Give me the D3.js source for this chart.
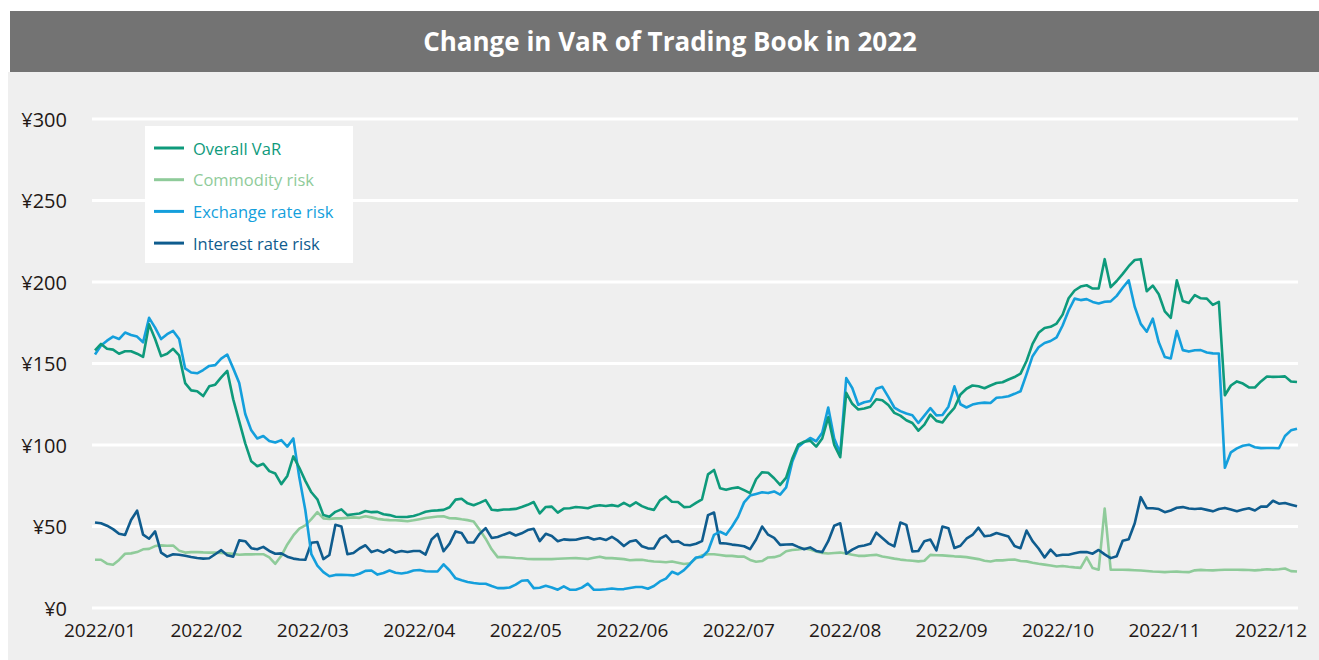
<!DOCTYPE html>
<html>
<head>
<meta charset="utf-8">
<script src="https://cdn.jsdelivr.net/npm/d3@7"></script>
<style>
  body { margin: 0; background: #fff; }
  svg { display: block; font-family: "Open Sans", "Noto Sans", sans-serif; }
</style>
</head>
<body>
<div id="chart"></div>
<script>
const overallVaR = [
  158,162,159,158.5,156,157.5,157.5,156,154,174,165,154.5,156,159,155,138,133.5,133,130,136,
  137,141.5,145.5,128,114.5,101,90,87,88.5,84,82.5,76,81,93,86,78,71,66.7,57,56,
  59,60.5,57,57.5,58,59.5,58.8,59,57.5,57,56,
  55.8,55.9,56.4,57.6,59,59.7,59.9,60.2,61.8,66.5,67,64.2,63,64.5,66.2,60.3,59.9,60.4,60.5,60.8,
  62,63.3,65,58,62,62.2,58.5,61,61.2,62,61.7,61.2,62.5,63,62.6,63.1,62.4,64.5,62.5,64.8,
  62.5,61,60.2,66,68.5,65.2,65,61.9,62.1,64.5,
  66.7,82,84.7,73.5,72.5,73.5,74,72.3,70.5,79,83.3,83,79.6,75.5,80,91.5,100.2,102,102.7,99,
  104,117,100,92.5,132,125.3,121.8,122.4,123.5,128.1,127.5,124.5,119.7,118,115.2,113.5,108.8,112.5,118.7,114.8,
  113.8,118.7,122.8,131,134.5,136.5,136,134.8,136.5,138,
  138.5,140.2,141.7,143.8,151.5,162,168.8,171.8,172.5,174.5,180,190,194.8,197.2,198,196,196,214,196.8,200.6,
  205,209.7,213.5,214,194.3,197.8,192.5,182,178,201,188.3,187.1,192,190,189.8,186,187.8,130.5,136.5,139,
  137.7,135.3,135.3,139,142,141.8,141.9,142.1,139,138.6
];
const commodityRisk = [
  29.6,29.6,27.2,26.5,29.5,33.3,33.5,34.3,36,36.3,38,38.4,38.2,38.3,35.2,34,34.3,34.3,34.1,34,
  34,33.8,33.5,33.2,32.7,32.9,32.9,33,33,31,27.1,32,39,44.5,48.7,50.7,54.5,58.8,55,54.7,
  55,55,55.3,55.6,55.3,56.3,55.6,54.7,54.2,53.9,53.8,
  53.6,53.2,53.8,54.5,55.2,55.7,56.1,56.3,55.1,55,54.4,53.9,53.1,48,42.5,36,31.2,31.2,31,30.7,
  30.5,30.1,30,30,30,30,30.2,30.4,30.5,30.6,30.4,30.1,30.8,31.5,30.6,30.6,30.3,30,29.3,29.5,
  29.6,29,28.5,28.4,28.1,28.5,27.8,27,27.5,30.5,
  32.3,33,33,32.5,32,32,31.5,31.5,29.5,28.4,28.8,31,31.2,32.2,34.8,35.6,35.9,36.5,35.9,34.7,
  33.8,33.4,33.7,34,33.4,32.7,32,32,32.4,32.6,31.6,31,30.3,29.7,29.3,29,28.6,29,32.6,32.4,
  32.3,32,31.7,31.5,31.2,30.6,30,29,28.5,29.3,
  29.2,29.6,29.8,28.8,28.6,27.8,27.1,26.6,26.1,25.5,25.8,25.3,24.9,24.6,31,24.5,23.5,61,23.5,23.5,
  23.5,23.4,23.2,23,22.7,22.4,22.2,22,22.2,22.3,22.1,22,23.1,23.4,23.2,23.1,23.3,23.5,23.5,23.5,
  23.4,23.3,23.1,23.4,23.8,23.5,23.8,24.2,22.6,22.4
];
const exchangeRateRisk = [
  155.5,161,164,166.5,165,169,167.5,166.5,163,178,172,165,168,170,165,147,144.5,144,146,148.5,
  149,153,155.5,147,138,119,109,104,105.5,102.5,101.5,103,99,104,80,60,33,26,22,19.5,
  20.3,20.3,20.2,20,21,22.8,23,20.5,21.5,23,21.6,
  21.2,21.8,23,23.3,22.5,22.4,22.4,26.8,23,18.2,17,16,15.3,14.9,14.9,13.5,12.2,12.2,12.6,14.3,
  16.7,17,12.2,12.4,13.6,12.6,11.2,13.3,11.2,11.2,12.5,15,11.2,11.2,11.5,12,11.5,11.6,12.3,12.9,
  12.9,11.8,13.5,16.3,18,22.2,20.7,23.2,27,31,
  31.3,35,44.9,46.8,45,50,56,64.8,69,70,71,70.5,71.5,69.6,74,89.5,98.8,101.8,104.3,102.3,
  107.5,123,104,95,141,135,124.7,126.2,127,134.5,135.7,129.5,123,120.8,119.3,118.3,113.5,118,122.6,118.2,
  118.4,123.5,136,125,123,124.8,125.6,126,125.8,129,
  129.3,129.9,131.4,133,143.5,154.5,160,162.6,163.8,166,173.3,182.5,189.8,188.9,189.5,187.8,186.8,187.9,188.1,191.5,
  196.5,201,184.8,174.3,169.5,177.5,163,154,153.1,170,158.2,157.3,158.1,158.2,156.8,156.2,156.1,86,95.5,97.9,
  99.5,100.2,98.6,98.1,98.2,98.2,98,105.5,109,110
];
const interestRateRisk = [
  52.5,52,50.5,48.4,45.5,44.8,54,59.7,45,42.5,47,34,31.5,33,32.7,32,31.3,30.7,30.3,30.5,
  33,35.5,32.3,31.5,41.5,41,36.7,36,37.5,35,33.3,33.5,31.5,30.3,29.8,29.6,40,40.5,30,32.5,
  51,50,33,33.7,36.5,38.5,34.3,35.5,34,36,34,
  35,34.4,35,35,32.8,42,45.5,34.8,39.5,47,46,40.2,40.2,45.5,49,43,43.6,45,46.3,44.5,
  45.8,47.8,48.6,41,45.5,44.2,41,42.1,41.8,41.9,42.8,43.4,42,42.8,41.7,43.7,41.3,38,40.8,41.6,
  37.9,36.6,36.5,42.5,44.6,40.5,41,38.8,38.5,39.4,
  41,57,58.6,39.8,39.6,38.9,38.5,37.9,36.1,42,50,45,43,38.7,39,39.1,37.5,36,37.2,35,
  34.3,41,50.5,52,33.3,35.8,37.7,38.4,39.4,46.2,43,39.7,37.8,52.4,51,34.7,35,41,42,35.3,
  50,49,36.8,38.2,42.5,44.8,49.3,44,44.5,46,
  45,43.8,38,36.7,47.5,41,36.5,31,35.8,32,32.7,32.7,33.6,34.3,34.3,33.3,35.6,32.9,30.6,31.8,
  41.3,42.2,52,68,61.2,61.2,60.7,58.8,59.8,61.5,61.9,61,60.7,61,60.2,59.3,60.7,61.4,60.4,59.4,
  60.4,61.2,59.8,62.2,62.2,65.8,64,64.4,63.4,62.4
];

const monthLabels = ["2022/01","2022/02","2022/03","2022/04","2022/05","2022/06",
                     "2022/07","2022/08","2022/09","2022/10","2022/11","2022/12"];
const yTicks = [0, 50, 100, 150, 200, 250, 300];
const seriesNames = ["Overall VaR", "Commodity risk", "Exchange rate risk", "Interest rate risk"];
const seriesColors = ["#0e9a7b", "#8fcb9a", "#149fdc", "#0f5c8e"];

// dimensions
const width = 1319, height = 660;
const plot = {left: 95, right: 1297, top: 119, bottom: 608};

const svg = d3.select("#chart")
    .append("svg")
    .attr("width", width)
    .attr("height", height);

// light grey panel + dark title bar
svg.append("rect")
    .attr("x", 8).attr("y", 72)
    .attr("width", width - 8).attr("height", height - 72)
    .attr("fill", "#efefef");

svg.append("rect")
    .attr("x", 10).attr("y", 11)
    .attr("width", width - 10).attr("height", 61)
    .attr("fill", "#737373");

svg.append("text")
    .attr("x", 670).attr("y", 41)
    .attr("text-anchor", "middle")
    .attr("dominant-baseline", "central")
    .attr("font-size", "26px")
    .attr("font-weight", 700)
    .attr("fill", "#fff")
    .text("Change in VaR of Trading Book in 2022");

// scales
const x = d3.scaleLinear()
    .domain([0, overallVaR.length - 1])
    .range([plot.left, plot.right]);
const y = d3.scaleLinear()
    .domain([0, 300])
    .range([plot.bottom, plot.top]);
const xLabel = d3.scalePoint()
    .domain(monthLabels)
    .range([100, 1271]);

// gridlines
svg.append("g")
    .selectAll("line")
    .data(yTicks)
    .join("line")
    .attr("x1", 92).attr("x2", 1298)
    .attr("y1", d => y(d)).attr("y2", d => y(d))
    .attr("stroke", "#fff")
    .attr("stroke-width", 3);

// y labels
svg.append("g")
    .selectAll("text")
    .data(yTicks)
    .join("text")
    .attr("x", 67)
    .attr("y", d => y(d))
    .attr("text-anchor", "end")
    .attr("dominant-baseline", "central")
    .attr("font-size", "20px")
    .attr("fill", "#231815")
    .text(d => "¥" + d);

// x labels
svg.append("g")
    .selectAll("text")
    .data(monthLabels)
    .join("text")
    .attr("x", d => xLabel(d))
    .attr("y", 630)
    .attr("text-anchor", "middle")
    .attr("dominant-baseline", "central")
    .attr("font-size", "19px")
    .attr("fill", "#231815")
    .text(d => d);

// lines (overall drawn last so it sits on top)
const series = [commodityRisk, interestRateRisk, exchangeRateRisk, overallVaR];
const seriesColorOrder = [seriesColors[1], seriesColors[3], seriesColors[2], seriesColors[0]];

const line = d3.line()
    .x((d, i) => x(i))
    .y(d => y(d));

svg.append("g")
    .selectAll("path")
    .data(series)
    .join("path")
    .attr("d", d => line(d))
    .attr("fill", "none")
    .attr("stroke", (d, i) => seriesColorOrder[i])
    .attr("stroke-width", 2.6)
    .attr("stroke-linejoin", "round");

// legend
const legend = svg.append("g").attr("transform", "translate(145,126)");
legend.append("rect")
    .attr("width", 208).attr("height", 137)
    .attr("fill", "#fff");

const item = legend.selectAll("g")
    .data(seriesNames)
    .join("g")
    .attr("transform", (d, i) => `translate(0,${22 + i * 31.7})`);

item.append("line")
    .attr("x1", 9).attr("x2", 39)
    .attr("stroke", (d, i) => seriesColors[i])
    .attr("stroke-width", 3);

item.append("text")
    .attr("x", 48)
    .attr("dominant-baseline", "central")
    .attr("font-size", "16.5px")
    .attr("fill", (d, i) => seriesColors[i])
    .text(d => d);
</script>
</body>
</html>
